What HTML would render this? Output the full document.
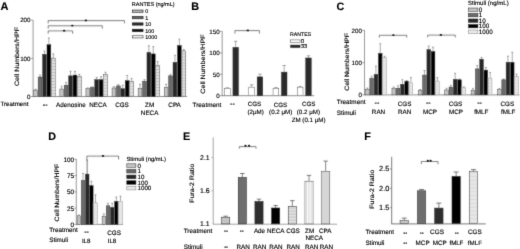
<!DOCTYPE html>
<html><head><meta charset="utf-8"><title>Figure</title>
<style>
html,body{margin:0;padding:0;background:#fff;}
svg{display:block;font-family:'Liberation Sans', Arial, sans-serif;text-rendering:geometricPrecision;}
text{stroke:#000;stroke-width:0.14px;}
</style></head>
<body>
<svg width="520" height="249" viewBox="0 0 520 249">
<rect width="520" height="249" fill="#fff"/>
<filter id="bl" x="0" y="0" width="520" height="249" filterUnits="userSpaceOnUse"><feConvolveMatrix order="3" kernelMatrix="1 3 1 3 24 3 1 3 1" divisor="40" edgeMode="duplicate" preserveAlpha="false"/></filter>
<g filter="url(#bl)">
<line x1="33.10" y1="20.20" x2="33.10" y2="96.50" stroke="#444" stroke-width="0.55"/>
<line x1="32.80" y1="96.50" x2="187.10" y2="96.50" stroke="#444" stroke-width="0.6"/>
<line x1="30.90" y1="20.10" x2="33.10" y2="20.10" stroke="#444" stroke-width="0.5"/>
<line x1="30.90" y1="58.30" x2="33.10" y2="58.30" stroke="#444" stroke-width="0.5"/>
<line x1="30.90" y1="96.50" x2="33.10" y2="96.50" stroke="#444" stroke-width="0.5"/>
<line x1="35.62" y1="90.08" x2="35.62" y2="89.24" stroke="#555" stroke-width="0.5"/>
<line x1="34.62" y1="89.24" x2="36.62" y2="89.24" stroke="#555" stroke-width="0.5"/>
<rect x="33.73" y="90.08" width="3.80" height="6.42" fill="#c2c2c2" stroke="#333" stroke-width="0.45"/>
<line x1="40.05" y1="77.02" x2="40.05" y2="75.11" stroke="#555" stroke-width="0.5"/>
<line x1="39.05" y1="75.11" x2="41.05" y2="75.11" stroke="#555" stroke-width="0.5"/>
<rect x="38.15" y="77.02" width="3.80" height="19.48" fill="#6a6a6a" stroke="#333" stroke-width="0.45"/>
<line x1="44.47" y1="54.29" x2="44.47" y2="51.04" stroke="#555" stroke-width="0.5"/>
<line x1="43.47" y1="51.04" x2="45.47" y2="51.04" stroke="#555" stroke-width="0.5"/>
<rect x="42.57" y="54.29" width="3.80" height="42.21" fill="#272727" stroke="#333" stroke-width="0.45"/>
<line x1="48.88" y1="44.70" x2="48.88" y2="38.05" stroke="#555" stroke-width="0.5"/>
<line x1="47.88" y1="38.05" x2="49.88" y2="38.05" stroke="#555" stroke-width="0.5"/>
<rect x="46.98" y="44.70" width="3.80" height="51.80" fill="#000" stroke="#333" stroke-width="0.45"/>
<line x1="53.30" y1="58.11" x2="53.30" y2="53.91" stroke="#555" stroke-width="0.5"/>
<line x1="52.30" y1="53.91" x2="54.30" y2="53.91" stroke="#555" stroke-width="0.5"/>
<rect x="51.41" y="58.11" width="3.80" height="38.39" fill="#fff" stroke="none" stroke-width="0"/>
<path d="M51.41 59.01h3.80M51.41 60.51h3.80M51.41 62.01h3.80M51.41 63.51h3.80M51.41 65.01h3.80M51.41 66.51h3.80M51.41 68.01h3.80M51.41 69.51h3.80M51.41 71.01h3.80M51.41 72.51h3.80M51.41 74.01h3.80M51.41 75.51h3.80M51.41 77.01h3.80M51.41 78.51h3.80M51.41 80.01h3.80M51.41 81.51h3.80M51.41 83.01h3.80M51.41 84.51h3.80M51.41 86.01h3.80M51.41 87.51h3.80M51.41 89.01h3.80M51.41 90.51h3.80M51.41 92.01h3.80M51.41 93.51h3.80M51.41 95.01h3.80" stroke="#777" stroke-width="0.45" fill="none"/>
<rect x="51.41" y="58.11" width="3.80" height="38.39" fill="none" stroke="#333" stroke-width="0.45"/>
<line x1="61.73" y1="89.01" x2="61.73" y2="86.19" stroke="#555" stroke-width="0.5"/>
<line x1="60.73" y1="86.19" x2="62.73" y2="86.19" stroke="#555" stroke-width="0.5"/>
<rect x="59.83" y="89.01" width="3.80" height="7.49" fill="#c2c2c2" stroke="#333" stroke-width="0.45"/>
<line x1="66.14" y1="85.19" x2="66.14" y2="82.37" stroke="#555" stroke-width="0.5"/>
<line x1="65.14" y1="82.37" x2="67.14" y2="82.37" stroke="#555" stroke-width="0.5"/>
<rect x="64.24" y="85.19" width="3.80" height="11.31" fill="#6a6a6a" stroke="#333" stroke-width="0.45"/>
<line x1="70.56" y1="75.87" x2="70.56" y2="71.29" stroke="#555" stroke-width="0.5"/>
<line x1="69.56" y1="71.29" x2="71.56" y2="71.29" stroke="#555" stroke-width="0.5"/>
<rect x="68.66" y="75.87" width="3.80" height="20.63" fill="#272727" stroke="#333" stroke-width="0.45"/>
<line x1="74.98" y1="75.11" x2="74.98" y2="71.29" stroke="#555" stroke-width="0.5"/>
<line x1="73.98" y1="71.29" x2="75.98" y2="71.29" stroke="#555" stroke-width="0.5"/>
<rect x="73.08" y="75.11" width="3.80" height="21.39" fill="#000" stroke="#333" stroke-width="0.45"/>
<line x1="79.41" y1="76.41" x2="79.41" y2="74.34" stroke="#555" stroke-width="0.5"/>
<line x1="78.41" y1="74.34" x2="80.41" y2="74.34" stroke="#555" stroke-width="0.5"/>
<rect x="77.50" y="76.41" width="3.80" height="20.09" fill="#fff" stroke="none" stroke-width="0"/>
<path d="M77.50 77.31h3.80M77.50 78.81h3.80M77.50 80.31h3.80M77.50 81.81h3.80M77.50 83.31h3.80M77.50 84.81h3.80M77.50 86.31h3.80M77.50 87.81h3.80M77.50 89.31h3.80M77.50 90.81h3.80M77.50 92.31h3.80M77.50 93.81h3.80M77.50 95.31h3.80" stroke="#777" stroke-width="0.45" fill="none"/>
<rect x="77.50" y="76.41" width="3.80" height="20.09" fill="none" stroke="#333" stroke-width="0.45"/>
<line x1="87.83" y1="88.67" x2="87.83" y2="87.91" stroke="#555" stroke-width="0.5"/>
<line x1="86.83" y1="87.91" x2="88.83" y2="87.91" stroke="#555" stroke-width="0.5"/>
<rect x="85.92" y="88.67" width="3.80" height="7.83" fill="#c2c2c2" stroke="#333" stroke-width="0.45"/>
<line x1="92.25" y1="87.52" x2="92.25" y2="86.76" stroke="#555" stroke-width="0.5"/>
<line x1="91.25" y1="86.76" x2="93.25" y2="86.76" stroke="#555" stroke-width="0.5"/>
<rect x="90.34" y="87.52" width="3.80" height="8.98" fill="#6a6a6a" stroke="#333" stroke-width="0.45"/>
<line x1="96.67" y1="79.69" x2="96.67" y2="77.40" stroke="#555" stroke-width="0.5"/>
<line x1="95.67" y1="77.40" x2="97.67" y2="77.40" stroke="#555" stroke-width="0.5"/>
<rect x="94.77" y="79.69" width="3.80" height="16.81" fill="#272727" stroke="#333" stroke-width="0.45"/>
<line x1="101.09" y1="79.69" x2="101.09" y2="76.64" stroke="#555" stroke-width="0.5"/>
<line x1="100.09" y1="76.64" x2="102.09" y2="76.64" stroke="#555" stroke-width="0.5"/>
<rect x="99.19" y="79.69" width="3.80" height="16.81" fill="#000" stroke="#333" stroke-width="0.45"/>
<line x1="105.50" y1="74.23" x2="105.50" y2="72.24" stroke="#555" stroke-width="0.5"/>
<line x1="104.50" y1="72.24" x2="106.50" y2="72.24" stroke="#555" stroke-width="0.5"/>
<rect x="103.60" y="74.23" width="3.80" height="22.27" fill="#fff" stroke="none" stroke-width="0"/>
<path d="M103.60 75.13h3.80M103.60 76.63h3.80M103.60 78.13h3.80M103.60 79.63h3.80M103.60 81.13h3.80M103.60 82.63h3.80M103.60 84.13h3.80M103.60 85.63h3.80M103.60 87.13h3.80M103.60 88.63h3.80M103.60 90.13h3.80M103.60 91.63h3.80M103.60 93.13h3.80M103.60 94.63h3.80M103.60 96.13h3.80" stroke="#777" stroke-width="0.45" fill="none"/>
<rect x="103.60" y="74.23" width="3.80" height="22.27" fill="none" stroke="#333" stroke-width="0.45"/>
<line x1="113.93" y1="87.98" x2="113.93" y2="86.76" stroke="#555" stroke-width="0.5"/>
<line x1="112.93" y1="86.76" x2="114.93" y2="86.76" stroke="#555" stroke-width="0.5"/>
<rect x="112.03" y="87.98" width="3.80" height="8.52" fill="#c2c2c2" stroke="#333" stroke-width="0.45"/>
<line x1="118.35" y1="85.92" x2="118.35" y2="84.66" stroke="#555" stroke-width="0.5"/>
<line x1="117.35" y1="84.66" x2="119.35" y2="84.66" stroke="#555" stroke-width="0.5"/>
<rect x="116.45" y="85.92" width="3.80" height="10.58" fill="#6a6a6a" stroke="#333" stroke-width="0.45"/>
<line x1="122.77" y1="88.75" x2="122.77" y2="85.23" stroke="#555" stroke-width="0.5"/>
<line x1="121.77" y1="85.23" x2="123.77" y2="85.23" stroke="#555" stroke-width="0.5"/>
<rect x="120.87" y="88.75" width="3.80" height="7.75" fill="#272727" stroke="#333" stroke-width="0.45"/>
<line x1="127.19" y1="80.65" x2="127.19" y2="75.49" stroke="#555" stroke-width="0.5"/>
<line x1="126.19" y1="75.49" x2="128.19" y2="75.49" stroke="#555" stroke-width="0.5"/>
<rect x="125.29" y="80.65" width="3.80" height="15.85" fill="#000" stroke="#333" stroke-width="0.45"/>
<line x1="131.61" y1="81.22" x2="131.61" y2="78.36" stroke="#555" stroke-width="0.5"/>
<line x1="130.61" y1="78.36" x2="132.61" y2="78.36" stroke="#555" stroke-width="0.5"/>
<rect x="129.71" y="81.22" width="3.80" height="15.28" fill="#fff" stroke="none" stroke-width="0"/>
<path d="M129.71 82.12h3.80M129.71 83.62h3.80M129.71 85.12h3.80M129.71 86.62h3.80M129.71 88.12h3.80M129.71 89.62h3.80M129.71 91.12h3.80M129.71 92.62h3.80M129.71 94.12h3.80M129.71 95.62h3.80" stroke="#777" stroke-width="0.45" fill="none"/>
<rect x="129.71" y="81.22" width="3.80" height="15.28" fill="none" stroke="#333" stroke-width="0.45"/>
<line x1="140.03" y1="88.29" x2="140.03" y2="84.28" stroke="#555" stroke-width="0.5"/>
<line x1="139.03" y1="84.28" x2="141.03" y2="84.28" stroke="#555" stroke-width="0.5"/>
<rect x="138.12" y="88.29" width="3.80" height="8.21" fill="#c2c2c2" stroke="#333" stroke-width="0.45"/>
<line x1="144.44" y1="81.30" x2="144.44" y2="79.69" stroke="#555" stroke-width="0.5"/>
<line x1="143.44" y1="79.69" x2="145.44" y2="79.69" stroke="#555" stroke-width="0.5"/>
<rect x="142.54" y="81.30" width="3.80" height="15.20" fill="#6a6a6a" stroke="#333" stroke-width="0.45"/>
<line x1="148.87" y1="52.42" x2="148.87" y2="45.81" stroke="#555" stroke-width="0.5"/>
<line x1="147.87" y1="45.81" x2="149.87" y2="45.81" stroke="#555" stroke-width="0.5"/>
<rect x="146.97" y="52.42" width="3.80" height="44.08" fill="#272727" stroke="#333" stroke-width="0.45"/>
<line x1="153.28" y1="53.91" x2="153.28" y2="46.61" stroke="#555" stroke-width="0.5"/>
<line x1="152.28" y1="46.61" x2="154.28" y2="46.61" stroke="#555" stroke-width="0.5"/>
<rect x="151.38" y="53.91" width="3.80" height="42.59" fill="#000" stroke="#333" stroke-width="0.45"/>
<line x1="157.71" y1="65.56" x2="157.71" y2="61.59" stroke="#555" stroke-width="0.5"/>
<line x1="156.71" y1="61.59" x2="158.71" y2="61.59" stroke="#555" stroke-width="0.5"/>
<rect x="155.81" y="65.56" width="3.80" height="30.94" fill="#fff" stroke="none" stroke-width="0"/>
<path d="M155.81 66.46h3.80M155.81 67.96h3.80M155.81 69.46h3.80M155.81 70.96h3.80M155.81 72.46h3.80M155.81 73.96h3.80M155.81 75.46h3.80M155.81 76.96h3.80M155.81 78.46h3.80M155.81 79.96h3.80M155.81 81.46h3.80M155.81 82.96h3.80M155.81 84.46h3.80M155.81 85.96h3.80M155.81 87.46h3.80M155.81 88.96h3.80M155.81 90.46h3.80M155.81 91.96h3.80M155.81 93.46h3.80M155.81 94.96h3.80" stroke="#777" stroke-width="0.45" fill="none"/>
<rect x="155.81" y="65.56" width="3.80" height="30.94" fill="none" stroke="#333" stroke-width="0.45"/>
<line x1="166.12" y1="87.48" x2="166.12" y2="84.28" stroke="#555" stroke-width="0.5"/>
<line x1="165.12" y1="84.28" x2="167.12" y2="84.28" stroke="#555" stroke-width="0.5"/>
<rect x="164.22" y="87.48" width="3.80" height="9.02" fill="#c2c2c2" stroke="#333" stroke-width="0.45"/>
<line x1="170.54" y1="75.87" x2="170.54" y2="74.34" stroke="#555" stroke-width="0.5"/>
<line x1="169.54" y1="74.34" x2="171.54" y2="74.34" stroke="#555" stroke-width="0.5"/>
<rect x="168.64" y="75.87" width="3.80" height="20.63" fill="#6a6a6a" stroke="#333" stroke-width="0.45"/>
<line x1="174.97" y1="62.31" x2="174.97" y2="55.24" stroke="#555" stroke-width="0.5"/>
<line x1="173.97" y1="55.24" x2="175.97" y2="55.24" stroke="#555" stroke-width="0.5"/>
<rect x="173.06" y="62.31" width="3.80" height="34.19" fill="#272727" stroke="#333" stroke-width="0.45"/>
<line x1="179.38" y1="45.50" x2="179.38" y2="39.20" stroke="#555" stroke-width="0.5"/>
<line x1="178.38" y1="39.20" x2="180.38" y2="39.20" stroke="#555" stroke-width="0.5"/>
<rect x="177.48" y="45.50" width="3.80" height="51.00" fill="#000" stroke="#333" stroke-width="0.45"/>
<line x1="183.81" y1="50.89" x2="183.81" y2="49.51" stroke="#555" stroke-width="0.5"/>
<line x1="182.81" y1="49.51" x2="184.81" y2="49.51" stroke="#555" stroke-width="0.5"/>
<rect x="181.91" y="50.89" width="3.80" height="45.61" fill="#fff" stroke="none" stroke-width="0"/>
<path d="M181.91 51.79h3.80M181.91 53.29h3.80M181.91 54.79h3.80M181.91 56.29h3.80M181.91 57.79h3.80M181.91 59.29h3.80M181.91 60.79h3.80M181.91 62.29h3.80M181.91 63.79h3.80M181.91 65.29h3.80M181.91 66.79h3.80M181.91 68.29h3.80M181.91 69.79h3.80M181.91 71.29h3.80M181.91 72.79h3.80M181.91 74.29h3.80M181.91 75.79h3.80M181.91 77.29h3.80M181.91 78.79h3.80M181.91 80.29h3.80M181.91 81.79h3.80M181.91 83.29h3.80M181.91 84.79h3.80M181.91 86.29h3.80M181.91 87.79h3.80M181.91 89.29h3.80M181.91 90.79h3.80M181.91 92.29h3.80M181.91 93.79h3.80M181.91 95.29h3.80" stroke="#777" stroke-width="0.45" fill="none"/>
<rect x="181.91" y="50.89" width="3.80" height="45.61" fill="none" stroke="#333" stroke-width="0.45"/>
<line x1="48.20" y1="20.60" x2="124.50" y2="20.60" stroke="#333" stroke-width="0.6"/>
<line x1="48.20" y1="20.60" x2="48.20" y2="23.40" stroke="#333" stroke-width="0.6"/>
<line x1="124.50" y1="20.60" x2="124.50" y2="23.40" stroke="#333" stroke-width="0.6"/>
<ellipse cx="85.90" cy="20.40" rx="1.25" ry="0.9" fill="#111"/>
<line x1="48.20" y1="25.80" x2="102.30" y2="25.80" stroke="#333" stroke-width="0.6"/>
<line x1="48.20" y1="25.80" x2="48.20" y2="28.60" stroke="#333" stroke-width="0.6"/>
<line x1="102.30" y1="25.80" x2="102.30" y2="28.60" stroke="#333" stroke-width="0.6"/>
<ellipse cx="72.30" cy="25.60" rx="1.25" ry="0.9" fill="#111"/>
<line x1="48.20" y1="30.90" x2="72.60" y2="30.90" stroke="#333" stroke-width="0.6"/>
<line x1="48.20" y1="30.90" x2="48.20" y2="33.70" stroke="#333" stroke-width="0.6"/>
<line x1="72.60" y1="30.90" x2="72.60" y2="33.70" stroke="#333" stroke-width="0.6"/>
<ellipse cx="64.10" cy="30.70" rx="1.25" ry="0.9" fill="#111"/>
<rect x="132.60" y="10.10" width="10.40" height="2.20" fill="#c2c2c2" stroke="#222" stroke-width="0.75"/>
<rect x="132.60" y="16.50" width="10.40" height="2.20" fill="#6a6a6a" stroke="#222" stroke-width="0.75"/>
<rect x="132.60" y="22.90" width="10.40" height="2.20" fill="#272727" stroke="#222" stroke-width="0.75"/>
<rect x="132.60" y="29.30" width="10.40" height="2.20" fill="#000" stroke="#222" stroke-width="0.75"/>
<rect x="132.60" y="35.70" width="10.40" height="2.20" fill="#fff" stroke="#444" stroke-width="0.75"/>
<line x1="222.20" y1="31.40" x2="222.20" y2="95.70" stroke="#444" stroke-width="0.55"/>
<line x1="221.90" y1="95.70" x2="314.20" y2="95.70" stroke="#444" stroke-width="0.6"/>
<line x1="220.00" y1="31.42" x2="222.20" y2="31.42" stroke="#444" stroke-width="0.5"/>
<line x1="220.00" y1="52.85" x2="222.20" y2="52.85" stroke="#444" stroke-width="0.5"/>
<line x1="220.00" y1="74.28" x2="222.20" y2="74.28" stroke="#444" stroke-width="0.5"/>
<line x1="220.00" y1="95.70" x2="222.20" y2="95.70" stroke="#444" stroke-width="0.5"/>
<line x1="227.40" y1="88.42" x2="227.40" y2="87.77" stroke="#555" stroke-width="0.5"/>
<line x1="225.70" y1="87.77" x2="229.10" y2="87.77" stroke="#555" stroke-width="0.5"/>
<rect x="224.53" y="88.42" width="5.75" height="7.28" fill="#fff" stroke="#333" stroke-width="0.45"/>
<line x1="235.70" y1="47.37" x2="235.70" y2="41.28" stroke="#555" stroke-width="0.5"/>
<line x1="234.00" y1="41.28" x2="237.40" y2="41.28" stroke="#555" stroke-width="0.5"/>
<rect x="232.93" y="47.37" width="5.55" height="48.33" fill="#2b2b2b" stroke="#2b2b2b" stroke-width="0.45"/>
<line x1="251.65" y1="87.13" x2="251.65" y2="84.77" stroke="#555" stroke-width="0.5"/>
<line x1="249.95" y1="84.77" x2="253.35" y2="84.77" stroke="#555" stroke-width="0.5"/>
<rect x="248.78" y="87.13" width="5.75" height="8.57" fill="#fff" stroke="#333" stroke-width="0.45"/>
<line x1="259.95" y1="76.89" x2="259.95" y2="74.06" stroke="#555" stroke-width="0.5"/>
<line x1="258.25" y1="74.06" x2="261.65" y2="74.06" stroke="#555" stroke-width="0.5"/>
<rect x="257.18" y="76.89" width="5.55" height="18.81" fill="#2b2b2b" stroke="#2b2b2b" stroke-width="0.45"/>
<line x1="275.90" y1="88.42" x2="275.90" y2="87.56" stroke="#555" stroke-width="0.5"/>
<line x1="274.20" y1="87.56" x2="277.60" y2="87.56" stroke="#555" stroke-width="0.5"/>
<rect x="273.03" y="88.42" width="5.75" height="7.28" fill="#fff" stroke="#333" stroke-width="0.45"/>
<line x1="284.20" y1="72.13" x2="284.20" y2="65.49" stroke="#555" stroke-width="0.5"/>
<line x1="282.50" y1="65.49" x2="285.90" y2="65.49" stroke="#555" stroke-width="0.5"/>
<rect x="281.43" y="72.13" width="5.55" height="23.57" fill="#2b2b2b" stroke="#2b2b2b" stroke-width="0.45"/>
<line x1="300.15" y1="87.13" x2="300.15" y2="86.49" stroke="#555" stroke-width="0.5"/>
<line x1="298.45" y1="86.49" x2="301.85" y2="86.49" stroke="#555" stroke-width="0.5"/>
<rect x="297.28" y="87.13" width="5.75" height="8.57" fill="#fff" stroke="#333" stroke-width="0.45"/>
<line x1="308.45" y1="57.99" x2="308.45" y2="55.76" stroke="#555" stroke-width="0.5"/>
<line x1="306.75" y1="55.76" x2="310.15" y2="55.76" stroke="#555" stroke-width="0.5"/>
<rect x="305.68" y="57.99" width="5.55" height="37.71" fill="#2b2b2b" stroke="#2b2b2b" stroke-width="0.45"/>
<line x1="234.90" y1="30.60" x2="259.40" y2="30.60" stroke="#333" stroke-width="0.6"/>
<line x1="234.90" y1="30.60" x2="234.90" y2="33.60" stroke="#333" stroke-width="0.6"/>
<line x1="259.40" y1="30.60" x2="259.40" y2="33.60" stroke="#333" stroke-width="0.6"/>
<ellipse cx="247.80" cy="30.40" rx="1.25" ry="0.9" fill="#111"/>
<rect x="290.70" y="39.90" width="9.40" height="2.40" fill="#fff" stroke="#222" stroke-width="0.5"/>
<rect x="290.70" y="45.10" width="9.40" height="2.40" fill="#2b2b2b" stroke="#222" stroke-width="0.5"/>
<line x1="364.50" y1="30.20" x2="364.50" y2="94.90" stroke="#444" stroke-width="0.55"/>
<line x1="364.20" y1="94.90" x2="519.50" y2="94.90" stroke="#444" stroke-width="0.6"/>
<line x1="362.30" y1="30.40" x2="364.50" y2="30.40" stroke="#444" stroke-width="0.5"/>
<line x1="362.30" y1="62.65" x2="364.50" y2="62.65" stroke="#444" stroke-width="0.5"/>
<line x1="362.30" y1="94.90" x2="364.50" y2="94.90" stroke="#444" stroke-width="0.5"/>
<line x1="367.35" y1="89.20" x2="367.35" y2="88.00" stroke="#555" stroke-width="0.5"/>
<line x1="366.35" y1="88.00" x2="368.35" y2="88.00" stroke="#555" stroke-width="0.5"/>
<rect x="365.53" y="89.20" width="3.65" height="5.70" fill="#c2c2c2" stroke="#333" stroke-width="0.45"/>
<line x1="371.65" y1="78.30" x2="371.65" y2="76.20" stroke="#555" stroke-width="0.5"/>
<line x1="370.65" y1="76.20" x2="372.65" y2="76.20" stroke="#555" stroke-width="0.5"/>
<rect x="369.83" y="78.30" width="3.65" height="16.60" fill="#6a6a6a" stroke="#333" stroke-width="0.45"/>
<line x1="375.95" y1="74.40" x2="375.95" y2="66.00" stroke="#555" stroke-width="0.5"/>
<line x1="374.95" y1="66.00" x2="376.95" y2="66.00" stroke="#555" stroke-width="0.5"/>
<rect x="374.13" y="74.40" width="3.65" height="20.50" fill="#272727" stroke="#333" stroke-width="0.45"/>
<line x1="380.25" y1="53.40" x2="380.25" y2="43.70" stroke="#555" stroke-width="0.5"/>
<line x1="379.25" y1="43.70" x2="381.25" y2="43.70" stroke="#555" stroke-width="0.5"/>
<rect x="378.43" y="53.40" width="3.65" height="41.50" fill="#000" stroke="#333" stroke-width="0.45"/>
<line x1="384.55" y1="57.70" x2="384.55" y2="56.30" stroke="#555" stroke-width="0.5"/>
<line x1="383.55" y1="56.30" x2="385.55" y2="56.30" stroke="#555" stroke-width="0.5"/>
<rect x="382.73" y="57.70" width="3.65" height="37.20" fill="#f1f1f1" stroke="none" stroke-width="0"/>
<path d="M382.73 58.60h3.65M382.73 60.10h3.65M382.73 61.60h3.65M382.73 63.10h3.65M382.73 64.60h3.65M382.73 66.10h3.65M382.73 67.60h3.65M382.73 69.10h3.65M382.73 70.60h3.65M382.73 72.10h3.65M382.73 73.60h3.65M382.73 75.10h3.65M382.73 76.60h3.65M382.73 78.10h3.65M382.73 79.60h3.65M382.73 81.10h3.65M382.73 82.60h3.65M382.73 84.10h3.65M382.73 85.60h3.65M382.73 87.10h3.65M382.73 88.60h3.65M382.73 90.10h3.65M382.73 91.60h3.65M382.73 93.10h3.65M382.73 94.60h3.65" stroke="#c4c4c4" stroke-width="0.4" fill="none"/>
<rect x="382.73" y="57.70" width="3.65" height="37.20" fill="none" stroke="#8a8a8a" stroke-width="0.45"/>
<line x1="393.75" y1="88.20" x2="393.75" y2="87.00" stroke="#555" stroke-width="0.5"/>
<line x1="392.75" y1="87.00" x2="394.75" y2="87.00" stroke="#555" stroke-width="0.5"/>
<rect x="391.93" y="88.20" width="3.65" height="6.70" fill="#c2c2c2" stroke="#333" stroke-width="0.45"/>
<line x1="398.05" y1="88.20" x2="398.05" y2="85.80" stroke="#555" stroke-width="0.5"/>
<line x1="397.05" y1="85.80" x2="399.05" y2="85.80" stroke="#555" stroke-width="0.5"/>
<rect x="396.23" y="88.20" width="3.65" height="6.70" fill="#6a6a6a" stroke="#333" stroke-width="0.45"/>
<line x1="402.35" y1="84.30" x2="402.35" y2="79.70" stroke="#555" stroke-width="0.5"/>
<line x1="401.35" y1="79.70" x2="403.35" y2="79.70" stroke="#555" stroke-width="0.5"/>
<rect x="400.53" y="84.30" width="3.65" height="10.60" fill="#272727" stroke="#333" stroke-width="0.45"/>
<line x1="406.65" y1="81.20" x2="406.65" y2="80.50" stroke="#555" stroke-width="0.5"/>
<line x1="405.65" y1="80.50" x2="407.65" y2="80.50" stroke="#555" stroke-width="0.5"/>
<rect x="404.82" y="81.20" width="3.65" height="13.70" fill="#000" stroke="#333" stroke-width="0.45"/>
<line x1="410.95" y1="82.80" x2="410.95" y2="77.40" stroke="#555" stroke-width="0.5"/>
<line x1="409.95" y1="77.40" x2="411.95" y2="77.40" stroke="#555" stroke-width="0.5"/>
<rect x="409.12" y="82.80" width="3.65" height="12.10" fill="#f1f1f1" stroke="none" stroke-width="0"/>
<path d="M409.12 83.70h3.65M409.12 85.20h3.65M409.12 86.70h3.65M409.12 88.20h3.65M409.12 89.70h3.65M409.12 91.20h3.65M409.12 92.70h3.65M409.12 94.20h3.65" stroke="#c4c4c4" stroke-width="0.4" fill="none"/>
<rect x="409.12" y="82.80" width="3.65" height="12.10" fill="none" stroke="#8a8a8a" stroke-width="0.45"/>
<line x1="420.15" y1="90.50" x2="420.15" y2="89.50" stroke="#555" stroke-width="0.5"/>
<line x1="419.15" y1="89.50" x2="421.15" y2="89.50" stroke="#555" stroke-width="0.5"/>
<rect x="418.33" y="90.50" width="3.65" height="4.40" fill="#c2c2c2" stroke="#333" stroke-width="0.45"/>
<line x1="424.45" y1="75.10" x2="424.45" y2="70.50" stroke="#555" stroke-width="0.5"/>
<line x1="423.45" y1="70.50" x2="425.45" y2="70.50" stroke="#555" stroke-width="0.5"/>
<rect x="422.63" y="75.10" width="3.65" height="19.80" fill="#6a6a6a" stroke="#333" stroke-width="0.45"/>
<line x1="428.75" y1="49.60" x2="428.75" y2="46.00" stroke="#555" stroke-width="0.5"/>
<line x1="427.75" y1="46.00" x2="429.75" y2="46.00" stroke="#555" stroke-width="0.5"/>
<rect x="426.93" y="49.60" width="3.65" height="45.30" fill="#272727" stroke="#333" stroke-width="0.45"/>
<line x1="433.05" y1="51.50" x2="433.05" y2="47.20" stroke="#555" stroke-width="0.5"/>
<line x1="432.05" y1="47.20" x2="434.05" y2="47.20" stroke="#555" stroke-width="0.5"/>
<rect x="431.23" y="51.50" width="3.65" height="43.40" fill="#000" stroke="#333" stroke-width="0.45"/>
<line x1="437.35" y1="81.00" x2="437.35" y2="77.60" stroke="#555" stroke-width="0.5"/>
<line x1="436.35" y1="77.60" x2="438.35" y2="77.60" stroke="#555" stroke-width="0.5"/>
<rect x="435.53" y="81.00" width="3.65" height="13.90" fill="#f1f1f1" stroke="none" stroke-width="0"/>
<path d="M435.53 81.90h3.65M435.53 83.40h3.65M435.53 84.90h3.65M435.53 86.40h3.65M435.53 87.90h3.65M435.53 89.40h3.65M435.53 90.90h3.65M435.53 92.40h3.65M435.53 93.90h3.65" stroke="#c4c4c4" stroke-width="0.4" fill="none"/>
<rect x="435.53" y="81.00" width="3.65" height="13.90" fill="none" stroke="#8a8a8a" stroke-width="0.45"/>
<line x1="446.55" y1="90.00" x2="446.55" y2="88.30" stroke="#555" stroke-width="0.5"/>
<line x1="445.55" y1="88.30" x2="447.55" y2="88.30" stroke="#555" stroke-width="0.5"/>
<rect x="444.73" y="90.00" width="3.65" height="4.90" fill="#c2c2c2" stroke="#333" stroke-width="0.45"/>
<line x1="450.85" y1="87.10" x2="450.85" y2="85.40" stroke="#555" stroke-width="0.5"/>
<line x1="449.85" y1="85.40" x2="451.85" y2="85.40" stroke="#555" stroke-width="0.5"/>
<rect x="449.03" y="87.10" width="3.65" height="7.80" fill="#6a6a6a" stroke="#333" stroke-width="0.45"/>
<line x1="455.15" y1="79.30" x2="455.15" y2="73.20" stroke="#555" stroke-width="0.5"/>
<line x1="454.15" y1="73.20" x2="456.15" y2="73.20" stroke="#555" stroke-width="0.5"/>
<rect x="453.33" y="79.30" width="3.65" height="15.60" fill="#272727" stroke="#333" stroke-width="0.45"/>
<line x1="459.45" y1="79.80" x2="459.45" y2="79.00" stroke="#555" stroke-width="0.5"/>
<line x1="458.45" y1="79.00" x2="460.45" y2="79.00" stroke="#555" stroke-width="0.5"/>
<rect x="457.62" y="79.80" width="3.65" height="15.10" fill="#000" stroke="#333" stroke-width="0.45"/>
<line x1="463.75" y1="87.60" x2="463.75" y2="86.80" stroke="#555" stroke-width="0.5"/>
<line x1="462.75" y1="86.80" x2="464.75" y2="86.80" stroke="#555" stroke-width="0.5"/>
<rect x="461.93" y="87.60" width="3.65" height="7.30" fill="#f1f1f1" stroke="none" stroke-width="0"/>
<path d="M461.93 88.50h3.65M461.93 90.00h3.65M461.93 91.50h3.65M461.93 93.00h3.65M461.93 94.50h3.65" stroke="#c4c4c4" stroke-width="0.4" fill="none"/>
<rect x="461.93" y="87.60" width="3.65" height="7.30" fill="none" stroke="#8a8a8a" stroke-width="0.45"/>
<line x1="472.95" y1="90.20" x2="472.95" y2="88.40" stroke="#555" stroke-width="0.5"/>
<line x1="471.95" y1="88.40" x2="473.95" y2="88.40" stroke="#555" stroke-width="0.5"/>
<rect x="471.12" y="90.20" width="3.65" height="4.70" fill="#c2c2c2" stroke="#333" stroke-width="0.45"/>
<line x1="477.25" y1="68.90" x2="477.25" y2="65.50" stroke="#555" stroke-width="0.5"/>
<line x1="476.25" y1="65.50" x2="478.25" y2="65.50" stroke="#555" stroke-width="0.5"/>
<rect x="475.43" y="68.90" width="3.65" height="26.00" fill="#6a6a6a" stroke="#333" stroke-width="0.45"/>
<line x1="481.55" y1="59.20" x2="481.55" y2="57.40" stroke="#555" stroke-width="0.5"/>
<line x1="480.55" y1="57.40" x2="482.55" y2="57.40" stroke="#555" stroke-width="0.5"/>
<rect x="479.73" y="59.20" width="3.65" height="35.70" fill="#272727" stroke="#333" stroke-width="0.45"/>
<line x1="485.85" y1="70.10" x2="485.85" y2="67.50" stroke="#555" stroke-width="0.5"/>
<line x1="484.85" y1="67.50" x2="486.85" y2="67.50" stroke="#555" stroke-width="0.5"/>
<rect x="484.02" y="70.10" width="3.65" height="24.80" fill="#000" stroke="#333" stroke-width="0.45"/>
<line x1="490.15" y1="78.10" x2="490.15" y2="72.40" stroke="#555" stroke-width="0.5"/>
<line x1="489.15" y1="72.40" x2="491.15" y2="72.40" stroke="#555" stroke-width="0.5"/>
<rect x="488.32" y="78.10" width="3.65" height="16.80" fill="#f1f1f1" stroke="none" stroke-width="0"/>
<path d="M488.32 79.00h3.65M488.32 80.50h3.65M488.32 82.00h3.65M488.32 83.50h3.65M488.32 85.00h3.65M488.32 86.50h3.65M488.32 88.00h3.65M488.32 89.50h3.65M488.32 91.00h3.65M488.32 92.50h3.65M488.32 94.00h3.65" stroke="#c4c4c4" stroke-width="0.4" fill="none"/>
<rect x="488.32" y="78.10" width="3.65" height="16.80" fill="none" stroke="#8a8a8a" stroke-width="0.45"/>
<line x1="499.35" y1="89.70" x2="499.35" y2="88.50" stroke="#555" stroke-width="0.5"/>
<line x1="498.35" y1="88.50" x2="500.35" y2="88.50" stroke="#555" stroke-width="0.5"/>
<rect x="497.53" y="89.70" width="3.65" height="5.20" fill="#c2c2c2" stroke="#333" stroke-width="0.45"/>
<line x1="503.65" y1="79.80" x2="503.65" y2="79.00" stroke="#555" stroke-width="0.5"/>
<line x1="502.65" y1="79.00" x2="504.65" y2="79.00" stroke="#555" stroke-width="0.5"/>
<rect x="501.83" y="79.80" width="3.65" height="15.10" fill="#6a6a6a" stroke="#333" stroke-width="0.45"/>
<line x1="507.95" y1="62.30" x2="507.95" y2="56.20" stroke="#555" stroke-width="0.5"/>
<line x1="506.95" y1="56.20" x2="508.95" y2="56.20" stroke="#555" stroke-width="0.5"/>
<rect x="506.13" y="62.30" width="3.65" height="32.60" fill="#272727" stroke="#333" stroke-width="0.45"/>
<line x1="512.25" y1="62.30" x2="512.25" y2="52.30" stroke="#555" stroke-width="0.5"/>
<line x1="511.25" y1="52.30" x2="513.25" y2="52.30" stroke="#555" stroke-width="0.5"/>
<rect x="510.43" y="62.30" width="3.65" height="32.60" fill="#000" stroke="#333" stroke-width="0.45"/>
<line x1="516.55" y1="76.70" x2="516.55" y2="74.10" stroke="#555" stroke-width="0.5"/>
<line x1="515.55" y1="74.10" x2="517.55" y2="74.10" stroke="#555" stroke-width="0.5"/>
<rect x="514.73" y="76.70" width="3.65" height="18.20" fill="#f1f1f1" stroke="none" stroke-width="0"/>
<path d="M514.73 77.60h3.65M514.73 79.10h3.65M514.73 80.60h3.65M514.73 82.10h3.65M514.73 83.60h3.65M514.73 85.10h3.65M514.73 86.60h3.65M514.73 88.10h3.65M514.73 89.60h3.65M514.73 91.10h3.65M514.73 92.60h3.65M514.73 94.10h3.65" stroke="#c4c4c4" stroke-width="0.4" fill="none"/>
<rect x="514.73" y="76.70" width="3.65" height="18.20" fill="none" stroke="#8a8a8a" stroke-width="0.45"/>
<line x1="379.40" y1="35.30" x2="406.70" y2="35.30" stroke="#333" stroke-width="0.6"/>
<line x1="379.40" y1="35.30" x2="379.40" y2="37.60" stroke="#333" stroke-width="0.6"/>
<line x1="406.70" y1="35.30" x2="406.70" y2="37.60" stroke="#333" stroke-width="0.6"/>
<ellipse cx="393.40" cy="35.10" rx="1.25" ry="0.9" fill="#111"/>
<line x1="427.70" y1="35.10" x2="455.30" y2="35.10" stroke="#333" stroke-width="0.6"/>
<line x1="427.70" y1="35.10" x2="427.70" y2="37.40" stroke="#333" stroke-width="0.6"/>
<line x1="455.30" y1="35.10" x2="455.30" y2="37.40" stroke="#333" stroke-width="0.6"/>
<ellipse cx="440.90" cy="34.90" rx="1.25" ry="0.9" fill="#111"/>
<rect x="468.50" y="8.00" width="9.40" height="3.30" fill="#c2c2c2" stroke="#222" stroke-width="0.55"/>
<rect x="468.50" y="13.50" width="9.40" height="3.30" fill="#6a6a6a" stroke="#222" stroke-width="0.55"/>
<rect x="468.50" y="19.00" width="9.40" height="3.30" fill="#272727" stroke="#222" stroke-width="0.55"/>
<rect x="468.50" y="24.50" width="9.40" height="3.30" fill="#000" stroke="#222" stroke-width="0.55"/>
<rect x="468.50" y="30.00" width="9.40" height="3.30" fill="#e9e9e9" stroke="#808080" stroke-width="0.55"/>
<line x1="76.30" y1="159.00" x2="76.30" y2="224.40" stroke="#444" stroke-width="0.55"/>
<line x1="76.00" y1="224.40" x2="123.00" y2="224.40" stroke="#444" stroke-width="0.6"/>
<line x1="74.30" y1="159.30" x2="76.30" y2="159.30" stroke="#444" stroke-width="0.5"/>
<line x1="74.30" y1="175.57" x2="76.30" y2="175.57" stroke="#444" stroke-width="0.5"/>
<line x1="74.30" y1="191.85" x2="76.30" y2="191.85" stroke="#444" stroke-width="0.5"/>
<line x1="74.30" y1="208.12" x2="76.30" y2="208.12" stroke="#444" stroke-width="0.5"/>
<line x1="74.30" y1="224.40" x2="76.30" y2="224.40" stroke="#444" stroke-width="0.5"/>
<line x1="78.90" y1="215.80" x2="78.90" y2="215.00" stroke="#555" stroke-width="0.5"/>
<line x1="77.90" y1="215.00" x2="79.90" y2="215.00" stroke="#555" stroke-width="0.5"/>
<rect x="77.12" y="215.80" width="3.55" height="8.60" fill="#c2c2c2" stroke="#333" stroke-width="0.45"/>
<line x1="83.05" y1="180.40" x2="83.05" y2="173.50" stroke="#555" stroke-width="0.5"/>
<line x1="82.05" y1="173.50" x2="84.05" y2="173.50" stroke="#555" stroke-width="0.5"/>
<rect x="81.28" y="180.40" width="3.55" height="44.00" fill="#6a6a6a" stroke="#333" stroke-width="0.45"/>
<line x1="87.20" y1="174.10" x2="87.20" y2="160.00" stroke="#555" stroke-width="0.5"/>
<line x1="86.20" y1="160.00" x2="88.20" y2="160.00" stroke="#555" stroke-width="0.5"/>
<rect x="85.42" y="174.10" width="3.55" height="50.30" fill="#272727" stroke="#333" stroke-width="0.45"/>
<line x1="91.35" y1="185.60" x2="91.35" y2="181.30" stroke="#555" stroke-width="0.5"/>
<line x1="90.35" y1="181.30" x2="92.35" y2="181.30" stroke="#555" stroke-width="0.5"/>
<rect x="89.58" y="185.60" width="3.55" height="38.80" fill="#000" stroke="#333" stroke-width="0.45"/>
<line x1="95.50" y1="202.80" x2="95.50" y2="194.80" stroke="#555" stroke-width="0.5"/>
<line x1="94.50" y1="194.80" x2="96.50" y2="194.80" stroke="#555" stroke-width="0.5"/>
<rect x="93.72" y="202.80" width="3.55" height="21.60" fill="#f1f1f1" stroke="none" stroke-width="0"/>
<path d="M93.72 203.70h3.55M93.72 205.20h3.55M93.72 206.70h3.55M93.72 208.20h3.55M93.72 209.70h3.55M93.72 211.20h3.55M93.72 212.70h3.55M93.72 214.20h3.55M93.72 215.70h3.55M93.72 217.20h3.55M93.72 218.70h3.55M93.72 220.20h3.55M93.72 221.70h3.55M93.72 223.20h3.55" stroke="#c4c4c4" stroke-width="0.4" fill="none"/>
<rect x="93.72" y="202.80" width="3.55" height="21.60" fill="none" stroke="#8a8a8a" stroke-width="0.45"/>
<line x1="103.90" y1="216.20" x2="103.90" y2="213.90" stroke="#555" stroke-width="0.5"/>
<line x1="102.90" y1="213.90" x2="104.90" y2="213.90" stroke="#555" stroke-width="0.5"/>
<rect x="102.12" y="216.20" width="3.55" height="8.20" fill="#c2c2c2" stroke="#333" stroke-width="0.45"/>
<line x1="108.05" y1="205.80" x2="108.05" y2="203.30" stroke="#555" stroke-width="0.5"/>
<line x1="107.05" y1="203.30" x2="109.05" y2="203.30" stroke="#555" stroke-width="0.5"/>
<rect x="106.28" y="205.80" width="3.55" height="18.60" fill="#6a6a6a" stroke="#333" stroke-width="0.45"/>
<line x1="112.20" y1="207.50" x2="112.20" y2="203.30" stroke="#555" stroke-width="0.5"/>
<line x1="111.20" y1="203.30" x2="113.20" y2="203.30" stroke="#555" stroke-width="0.5"/>
<rect x="110.42" y="207.50" width="3.55" height="16.90" fill="#272727" stroke="#333" stroke-width="0.45"/>
<line x1="116.35" y1="201.40" x2="116.35" y2="197.00" stroke="#555" stroke-width="0.5"/>
<line x1="115.35" y1="197.00" x2="117.35" y2="197.00" stroke="#555" stroke-width="0.5"/>
<rect x="114.58" y="201.40" width="3.55" height="23.00" fill="#000" stroke="#333" stroke-width="0.45"/>
<line x1="120.50" y1="201.40" x2="120.50" y2="196.20" stroke="#555" stroke-width="0.5"/>
<line x1="119.50" y1="196.20" x2="121.50" y2="196.20" stroke="#555" stroke-width="0.5"/>
<rect x="118.72" y="201.40" width="3.55" height="23.00" fill="#f1f1f1" stroke="none" stroke-width="0"/>
<path d="M118.72 202.30h3.55M118.72 203.80h3.55M118.72 205.30h3.55M118.72 206.80h3.55M118.72 208.30h3.55M118.72 209.80h3.55M118.72 211.30h3.55M118.72 212.80h3.55M118.72 214.30h3.55M118.72 215.80h3.55M118.72 217.30h3.55M118.72 218.80h3.55M118.72 220.30h3.55M118.72 221.80h3.55M118.72 223.30h3.55" stroke="#c4c4c4" stroke-width="0.4" fill="none"/>
<rect x="118.72" y="201.40" width="3.55" height="23.00" fill="none" stroke="#8a8a8a" stroke-width="0.45"/>
<line x1="86.90" y1="156.10" x2="118.60" y2="156.10" stroke="#333" stroke-width="0.6"/>
<line x1="86.90" y1="156.10" x2="86.90" y2="160.30" stroke="#333" stroke-width="0.6"/>
<line x1="118.60" y1="156.10" x2="118.60" y2="159.50" stroke="#333" stroke-width="0.6"/>
<ellipse cx="103.00" cy="155.90" rx="1.25" ry="0.9" fill="#111"/>
<line x1="87.20" y1="160.00" x2="87.20" y2="174.00" stroke="#666" stroke-width="0.5"/>
<rect x="126.80" y="163.80" width="9.10" height="3.50" fill="#c2c2c2" stroke="#222" stroke-width="0.55"/>
<rect x="126.80" y="169.45" width="9.10" height="3.50" fill="#6a6a6a" stroke="#222" stroke-width="0.55"/>
<rect x="126.80" y="175.10" width="9.10" height="3.50" fill="#272727" stroke="#222" stroke-width="0.55"/>
<rect x="126.80" y="180.75" width="9.10" height="3.50" fill="#000" stroke="#222" stroke-width="0.55"/>
<rect x="126.80" y="186.40" width="9.10" height="3.50" fill="#e9e9e9" stroke="#808080" stroke-width="0.55"/>
<line x1="213.20" y1="137.50" x2="213.20" y2="224.20" stroke="#999" stroke-width="0.9"/>
<line x1="212.80" y1="224.20" x2="337.00" y2="224.20" stroke="#999" stroke-width="0.9"/>
<line x1="211.40" y1="157.60" x2="213.20" y2="157.60" stroke="#888" stroke-width="0.6"/>
<line x1="211.40" y1="190.80" x2="213.20" y2="190.80" stroke="#888" stroke-width="0.6"/>
<line x1="225.65" y1="217.20" x2="225.65" y2="216.20" stroke="#3a3a3a" stroke-width="0.65"/>
<line x1="223.45" y1="216.20" x2="227.85" y2="216.20" stroke="#3a3a3a" stroke-width="0.65"/>
<rect x="221.58" y="217.20" width="8.15" height="6.70" fill="#c4c4c4" stroke="#222" stroke-width="0.55"/>
<line x1="242.32" y1="177.50" x2="242.32" y2="173.50" stroke="#3a3a3a" stroke-width="0.65"/>
<line x1="240.12" y1="173.50" x2="244.52" y2="173.50" stroke="#3a3a3a" stroke-width="0.65"/>
<rect x="238.25" y="177.50" width="8.15" height="46.40" fill="#6e6e6e" stroke="#222" stroke-width="0.55"/>
<line x1="258.99" y1="201.50" x2="258.99" y2="199.20" stroke="#3a3a3a" stroke-width="0.65"/>
<line x1="256.79" y1="199.20" x2="261.19" y2="199.20" stroke="#3a3a3a" stroke-width="0.65"/>
<rect x="254.92" y="201.50" width="8.15" height="22.40" fill="#2e2e2e" stroke="#222" stroke-width="0.55"/>
<line x1="275.66" y1="208.00" x2="275.66" y2="205.50" stroke="#3a3a3a" stroke-width="0.65"/>
<line x1="273.46" y1="205.50" x2="277.86" y2="205.50" stroke="#3a3a3a" stroke-width="0.65"/>
<rect x="271.58" y="208.00" width="8.15" height="15.90" fill="#000" stroke="#222" stroke-width="0.55"/>
<line x1="292.33" y1="206.30" x2="292.33" y2="200.60" stroke="#3a3a3a" stroke-width="0.65"/>
<line x1="290.13" y1="200.60" x2="294.53" y2="200.60" stroke="#3a3a3a" stroke-width="0.65"/>
<rect x="288.25" y="206.30" width="8.15" height="17.60" fill="#fff" stroke="none" stroke-width="0"/>
<path d="M288.25 207.20h8.15M288.25 208.70h8.15M288.25 210.20h8.15M288.25 211.70h8.15M288.25 213.20h8.15M288.25 214.70h8.15M288.25 216.20h8.15M288.25 217.70h8.15M288.25 219.20h8.15M288.25 220.70h8.15M288.25 222.20h8.15" stroke="#777" stroke-width="0.45" fill="none"/>
<rect x="288.25" y="206.30" width="8.15" height="17.60" fill="none" stroke="#222" stroke-width="0.55"/>
<line x1="309.00" y1="181.20" x2="309.00" y2="175.40" stroke="#3a3a3a" stroke-width="0.65"/>
<line x1="306.80" y1="175.40" x2="311.20" y2="175.40" stroke="#3a3a3a" stroke-width="0.65"/>
<rect x="304.93" y="181.20" width="8.15" height="42.70" fill="#fff" stroke="none" stroke-width="0"/>
<path d="M306.68 181.20V223.90M308.93 181.20V223.90M311.18 181.20V223.90" stroke="#b4b4b4" stroke-width="0.55" fill="none"/>
<rect x="304.93" y="181.20" width="8.15" height="42.70" fill="none" stroke="#4a4a4a" stroke-width="0.55"/>
<line x1="325.67" y1="171.40" x2="325.67" y2="161.10" stroke="#3a3a3a" stroke-width="0.65"/>
<line x1="323.47" y1="161.10" x2="327.87" y2="161.10" stroke="#3a3a3a" stroke-width="0.65"/>
<rect x="321.60" y="171.40" width="8.15" height="52.50" fill="#d6d6d6" stroke="#4a4a4a" stroke-width="0.55"/>
<line x1="239.40" y1="146.60" x2="256.00" y2="146.60" stroke="#333" stroke-width="0.6"/>
<line x1="239.40" y1="146.60" x2="239.40" y2="148.70" stroke="#333" stroke-width="0.6"/>
<line x1="256.00" y1="146.60" x2="256.00" y2="148.70" stroke="#333" stroke-width="0.6"/>
<ellipse cx="245.50" cy="145.80" rx="1.15" ry="1.0" fill="#111"/>
<ellipse cx="249.10" cy="145.80" rx="1.15" ry="1.0" fill="#111"/>
<line x1="391.70" y1="156.80" x2="391.70" y2="223.90" stroke="#555" stroke-width="0.8"/>
<line x1="391.30" y1="223.90" x2="485.70" y2="223.90" stroke="#555" stroke-width="0.8"/>
<line x1="389.90" y1="168.90" x2="391.70" y2="168.90" stroke="#555" stroke-width="0.6"/>
<line x1="389.90" y1="188.30" x2="391.70" y2="188.30" stroke="#555" stroke-width="0.6"/>
<line x1="389.90" y1="207.70" x2="391.70" y2="207.70" stroke="#555" stroke-width="0.6"/>
<line x1="404.25" y1="220.60" x2="404.25" y2="218.10" stroke="#3a3a3a" stroke-width="0.65"/>
<line x1="401.65" y1="218.10" x2="406.85" y2="218.10" stroke="#3a3a3a" stroke-width="0.65"/>
<rect x="400.07" y="220.60" width="8.35" height="3.00" fill="#c4c4c4" stroke="#333" stroke-width="0.55"/>
<line x1="421.55" y1="190.80" x2="421.55" y2="189.50" stroke="#3a3a3a" stroke-width="0.65"/>
<line x1="418.95" y1="189.50" x2="424.15" y2="189.50" stroke="#3a3a3a" stroke-width="0.65"/>
<rect x="417.38" y="190.80" width="8.35" height="32.80" fill="#6e6e6e" stroke="#333" stroke-width="0.55"/>
<line x1="438.85" y1="208.10" x2="438.85" y2="203.10" stroke="#3a3a3a" stroke-width="0.65"/>
<line x1="436.25" y1="203.10" x2="441.45" y2="203.10" stroke="#3a3a3a" stroke-width="0.65"/>
<rect x="434.68" y="208.10" width="8.35" height="15.50" fill="#2e2e2e" stroke="#333" stroke-width="0.55"/>
<line x1="456.15" y1="176.40" x2="456.15" y2="172.00" stroke="#3a3a3a" stroke-width="0.65"/>
<line x1="453.55" y1="172.00" x2="458.75" y2="172.00" stroke="#3a3a3a" stroke-width="0.65"/>
<rect x="451.98" y="176.40" width="8.35" height="47.20" fill="#000" stroke="#333" stroke-width="0.55"/>
<line x1="473.45" y1="171.60" x2="473.45" y2="169.60" stroke="#3a3a3a" stroke-width="0.65"/>
<line x1="470.85" y1="169.60" x2="476.05" y2="169.60" stroke="#3a3a3a" stroke-width="0.65"/>
<rect x="469.27" y="171.60" width="8.35" height="52.00" fill="#fbfbfb" stroke="none" stroke-width="0"/>
<path d="M469.27 172.50h8.35M469.27 173.85h8.35M469.27 175.20h8.35M469.27 176.55h8.35M469.27 177.90h8.35M469.27 179.25h8.35M469.27 180.60h8.35M469.27 181.95h8.35M469.27 183.30h8.35M469.27 184.65h8.35M469.27 186.00h8.35M469.27 187.35h8.35M469.27 188.70h8.35M469.27 190.05h8.35M469.27 191.40h8.35M469.27 192.75h8.35M469.27 194.10h8.35M469.27 195.45h8.35M469.27 196.80h8.35M469.27 198.15h8.35M469.27 199.50h8.35M469.27 200.85h8.35M469.27 202.20h8.35M469.27 203.55h8.35M469.27 204.90h8.35M469.27 206.25h8.35M469.27 207.60h8.35M469.27 208.95h8.35M469.27 210.30h8.35M469.27 211.65h8.35M469.27 213.00h8.35M469.27 214.35h8.35M469.27 215.70h8.35M469.27 217.05h8.35M469.27 218.40h8.35M469.27 219.75h8.35M469.27 221.10h8.35M469.27 222.45h8.35" stroke="#a8a8a8" stroke-width="0.4" fill="none"/>
<rect x="469.27" y="171.60" width="8.35" height="52.00" fill="none" stroke="#333" stroke-width="0.55"/>
<line x1="421.30" y1="161.50" x2="438.00" y2="161.50" stroke="#333" stroke-width="0.6"/>
<line x1="421.30" y1="161.50" x2="421.30" y2="164.20" stroke="#333" stroke-width="0.6"/>
<line x1="438.00" y1="161.50" x2="438.00" y2="164.20" stroke="#333" stroke-width="0.6"/>
<ellipse cx="427.80" cy="160.70" rx="1.15" ry="1.0" fill="#111"/>
<ellipse cx="430.60" cy="160.70" rx="1.15" ry="1.0" fill="#111"/>
</g>
<filter id="bt" x="0" y="0" width="520" height="249" filterUnits="userSpaceOnUse"><feConvolveMatrix order="3" kernelMatrix="0 1 0 1 7 1 0 1 0" divisor="11" edgeMode="duplicate" preserveAlpha="false"/></filter>
<g filter="url(#bt)">
<text x="0.50" y="9.70" font-size="11" text-anchor="start" font-weight="bold" fill="#000" >A</text>
<text x="30.50" y="22.35" font-size="6.2" text-anchor="end" font-weight="normal" fill="#000" >200</text>
<text x="30.50" y="60.55" font-size="6.2" text-anchor="end" font-weight="normal" fill="#000" >100</text>
<text x="30.50" y="98.75" font-size="6.2" text-anchor="end" font-weight="normal" fill="#000" >0</text>
<text transform="translate(18.50,56.50) rotate(-90) scale(1.127,1)" font-size="6.3" text-anchor="middle" fill="#000">Cell Numbers/HPF</text>
<text x="0.50" y="106.40" font-size="6.2" text-anchor="start" font-weight="normal" fill="#000" >Treatment</text>
<text x="45.20" y="106.90" font-size="7.2" text-anchor="middle" font-weight="normal" fill="#000" >--</text>
<text x="71.00" y="106.90" font-size="6.3" text-anchor="middle" font-weight="normal" fill="#000" >Adenosine</text>
<text x="98.00" y="106.90" font-size="6.3" text-anchor="middle" font-weight="normal" fill="#000" >NECA</text>
<text x="122.00" y="106.90" font-size="6.3" text-anchor="middle" font-weight="normal" fill="#000" >CGS</text>
<text x="149.60" y="106.90" font-size="6.3" text-anchor="middle" font-weight="normal" fill="#000" >ZM</text>
<text x="174.60" y="106.90" font-size="6.3" text-anchor="middle" font-weight="normal" fill="#000" >CPA</text>
<text x="149.60" y="114.60" font-size="6.3" text-anchor="middle" font-weight="normal" fill="#000" >NECA</text>
<text x="131.80" y="5.50" font-size="5.5" text-anchor="start" font-weight="normal" fill="#000" >RANTES (ng/mL)</text>
<text x="145.20" y="13.30" font-size="5.4" text-anchor="start" font-weight="normal" fill="#000" >0</text>
<text x="145.20" y="19.70" font-size="5.4" text-anchor="start" font-weight="normal" fill="#000" >1</text>
<text x="145.20" y="26.10" font-size="5.4" text-anchor="start" font-weight="normal" fill="#000" >10</text>
<text x="145.20" y="32.50" font-size="5.4" text-anchor="start" font-weight="normal" fill="#000" >100</text>
<text x="145.20" y="38.90" font-size="5.4" text-anchor="start" font-weight="normal" fill="#000" >1000</text>
<text x="191.30" y="9.50" font-size="10.8" text-anchor="start" font-weight="bold" fill="#000" >B</text>
<text x="219.60" y="33.72" font-size="6.2" text-anchor="end" font-weight="normal" fill="#000" >150</text>
<text x="219.60" y="55.15" font-size="6.2" text-anchor="end" font-weight="normal" fill="#000" >100</text>
<text x="219.60" y="76.58" font-size="6.2" text-anchor="end" font-weight="normal" fill="#000" >50</text>
<text x="219.60" y="98.00" font-size="6.2" text-anchor="end" font-weight="normal" fill="#000" >0</text>
<text transform="translate(205.40,64.10) rotate(-90) scale(1.127,1)" font-size="6.3" text-anchor="middle" fill="#000">Cell Numbers/HPF</text>
<text x="192.60" y="106.60" font-size="6.35" text-anchor="start" font-weight="normal" fill="#000" >Treatment</text>
<text x="232.50" y="105.90" font-size="7.2" text-anchor="middle" font-weight="normal" fill="#000" >--</text>
<text x="254.50" y="105.90" font-size="6.2" text-anchor="middle" font-weight="normal" fill="#000" >CGS</text>
<text x="255.60" y="113.80" font-size="6.2" text-anchor="middle" font-weight="normal" fill="#000" >(2μM)</text>
<text x="280.40" y="106.50" font-size="6.2" text-anchor="middle" font-weight="normal" fill="#000" >CGS</text>
<text x="280.70" y="114.20" font-size="6.2" text-anchor="middle" font-weight="normal" fill="#000" >(0.2 μM)</text>
<text x="308.80" y="105.90" font-size="6.2" text-anchor="middle" font-weight="normal" fill="#000" >CGS</text>
<text x="308.40" y="113.80" font-size="6.2" text-anchor="middle" font-weight="normal" fill="#000" >(0.2 μM)</text>
<text x="308.60" y="121.50" font-size="6.2" text-anchor="middle" font-weight="normal" fill="#000" >ZM (0.1 μM)</text>
<text x="290.10" y="35.70" font-size="5.2" text-anchor="start" font-weight="normal" fill="#000" >RANTES</text>
<text x="300.90" y="43.00" font-size="5.6" text-anchor="start" font-weight="normal" fill="#000" >0</text>
<text x="300.90" y="48.20" font-size="5.6" text-anchor="start" font-weight="normal" fill="#000" >33</text>
<text x="336.60" y="9.60" font-size="10.8" text-anchor="start" font-weight="bold" fill="#000" >C</text>
<text x="361.90" y="32.70" font-size="6.2" text-anchor="end" font-weight="normal" fill="#000" >200</text>
<text x="361.90" y="64.95" font-size="6.2" text-anchor="end" font-weight="normal" fill="#000" >100</text>
<text x="361.90" y="97.20" font-size="6.2" text-anchor="end" font-weight="normal" fill="#000" >0</text>
<text transform="translate(349.30,61.90) rotate(-90) scale(1.103,1)" font-size="6.3" text-anchor="middle" fill="#000">Cell Numbers/HPF</text>
<text x="336.80" y="103.80" font-size="6.35" text-anchor="start" font-weight="normal" fill="#000" >Treatment</text>
<text x="336.80" y="114.70" font-size="6.35" text-anchor="start" font-weight="normal" fill="#000" >Stimuli</text>
<text x="377.00" y="105.00" font-size="7.2" text-anchor="middle" font-weight="normal" fill="#000" >--</text>
<text x="378.50" y="113.90" font-size="6.3" text-anchor="middle" font-weight="normal" fill="#000" >RAN</text>
<text x="404.60" y="106.00" font-size="6.25" text-anchor="middle" font-weight="normal" fill="#000" >CGS</text>
<text x="404.70" y="113.90" font-size="6.3" text-anchor="middle" font-weight="normal" fill="#000" >RAN</text>
<text x="428.30" y="105.00" font-size="7.2" text-anchor="middle" font-weight="normal" fill="#000" >--</text>
<text x="430.00" y="113.90" font-size="6.3" text-anchor="middle" font-weight="normal" fill="#000" >MCP</text>
<text x="455.50" y="106.00" font-size="6.25" text-anchor="middle" font-weight="normal" fill="#000" >CGS</text>
<text x="455.90" y="113.90" font-size="6.3" text-anchor="middle" font-weight="normal" fill="#000" >MCP</text>
<text x="479.60" y="105.00" font-size="7.2" text-anchor="middle" font-weight="normal" fill="#000" >--</text>
<text x="481.30" y="113.90" font-size="6.3" text-anchor="middle" font-weight="normal" fill="#000" >fMLF</text>
<text x="507.30" y="106.00" font-size="6.25" text-anchor="middle" font-weight="normal" fill="#000" >CGS</text>
<text x="508.20" y="113.90" font-size="6.3" text-anchor="middle" font-weight="normal" fill="#000" >fMLF</text>
<text x="468.00" y="4.60" font-size="6.05" text-anchor="start" font-weight="normal" fill="#000" >Stimuli (ng/mL)</text>
<text x="478.70" y="11.70" font-size="6.3" text-anchor="start" font-weight="normal" fill="#000" >0</text>
<text x="478.70" y="17.20" font-size="6.3" text-anchor="start" font-weight="normal" fill="#000" >1</text>
<text x="478.70" y="22.70" font-size="6.3" text-anchor="start" font-weight="normal" fill="#000" >10</text>
<text x="478.70" y="28.20" font-size="6.3" text-anchor="start" font-weight="normal" fill="#000" >100</text>
<text x="478.70" y="33.70" font-size="6.3" text-anchor="start" font-weight="normal" fill="#000" >1000</text>
<text x="48.30" y="140.20" font-size="10.8" text-anchor="start" font-weight="bold" fill="#000" >D</text>
<text x="74.20" y="161.70" font-size="6.45" text-anchor="end" font-weight="normal" fill="#000" >100</text>
<text x="74.20" y="177.97" font-size="6.45" text-anchor="end" font-weight="normal" fill="#000" >75</text>
<text x="74.20" y="194.25" font-size="6.45" text-anchor="end" font-weight="normal" fill="#000" >50</text>
<text x="74.20" y="210.53" font-size="6.45" text-anchor="end" font-weight="normal" fill="#000" >25</text>
<text x="74.20" y="226.80" font-size="6.45" text-anchor="end" font-weight="normal" fill="#000" >0</text>
<text transform="translate(59.40,192.60) rotate(-90) scale(1.103,1)" font-size="6.3" text-anchor="middle" fill="#000">Cell Numbers/HPF</text>
<text x="49.20" y="232.00" font-size="6.35" text-anchor="start" font-weight="normal" fill="#000" >Treatment</text>
<text x="49.20" y="242.30" font-size="6.3" text-anchor="start" font-weight="normal" fill="#000" >Stimuli</text>
<text x="86.60" y="234.00" font-size="7.2" text-anchor="middle" font-weight="normal" fill="#000" >--</text>
<text x="114.10" y="235.00" font-size="6.3" text-anchor="middle" font-weight="normal" fill="#000" >CGS</text>
<text x="81.90" y="242.50" font-size="6.2" text-anchor="start" font-weight="normal" fill="#000" >IL8</text>
<text x="107.70" y="242.70" font-size="6.2" text-anchor="start" font-weight="normal" fill="#000" >IL8</text>
<text x="126.40" y="160.70" font-size="5.9" text-anchor="start" font-weight="normal" fill="#000" >Stimuli (ng/mL)</text>
<text x="137.50" y="167.75" font-size="6.2" text-anchor="start" font-weight="normal" fill="#000" >0</text>
<text x="137.50" y="173.40" font-size="6.2" text-anchor="start" font-weight="normal" fill="#000" >1</text>
<text x="137.50" y="179.05" font-size="6.2" text-anchor="start" font-weight="normal" fill="#000" >10</text>
<text x="137.50" y="184.70" font-size="6.2" text-anchor="start" font-weight="normal" fill="#000" >100</text>
<text x="137.50" y="190.35" font-size="6.2" text-anchor="start" font-weight="normal" fill="#000" >1000</text>
<text x="183.00" y="139.90" font-size="10.8" text-anchor="start" font-weight="bold" fill="#000" >E</text>
<text x="209.70" y="159.70" font-size="6.9" text-anchor="end" font-weight="normal" fill="#000" >2.1</text>
<text x="209.70" y="192.90" font-size="6.9" text-anchor="end" font-weight="normal" fill="#000" >1.6</text>
<text x="209.70" y="226.10" font-size="6.9" text-anchor="end" font-weight="normal" fill="#000" >1.1</text>
<text transform="translate(194.30,183.20) rotate(-90) scale(1.111,1)" font-size="6.3" text-anchor="middle" fill="#000">Fura-2 Ratio</text>
<text x="183.70" y="232.50" font-size="6.3" text-anchor="start" font-weight="normal" fill="#000" >Treatment</text>
<text x="183.70" y="248.60" font-size="6.3" text-anchor="start" font-weight="normal" fill="#000" >Stimuli</text>
<text x="226.00" y="232.80" font-size="7.0" text-anchor="middle" font-weight="normal" fill="#000" textLength="3.9" lengthAdjust="spacingAndGlyphs">--</text>
<text x="241.80" y="232.80" font-size="7.0" text-anchor="middle" font-weight="normal" fill="#000" textLength="3.9" lengthAdjust="spacingAndGlyphs">--</text>
<text x="259.50" y="232.60" font-size="6.3" text-anchor="middle" font-weight="normal" fill="#000" >Ade</text>
<text x="275.80" y="232.60" font-size="6.3" text-anchor="middle" font-weight="normal" fill="#000" >NECA</text>
<text x="293.00" y="232.60" font-size="6.3" text-anchor="middle" font-weight="normal" fill="#000" >CGS</text>
<text x="309.60" y="232.60" font-size="6.3" text-anchor="middle" font-weight="normal" fill="#000" >ZM</text>
<text x="325.20" y="232.60" font-size="6.3" text-anchor="middle" font-weight="normal" fill="#000" >CPA</text>
<text x="305.40" y="240.00" font-size="6.3" text-anchor="start" font-weight="normal" fill="#000" >NECA</text>
<text x="226.10" y="249.20" font-size="7.0" text-anchor="middle" font-weight="normal" fill="#000" textLength="3.9" lengthAdjust="spacingAndGlyphs">--</text>
<text x="243.20" y="248.70" font-size="6.3" text-anchor="middle" font-weight="normal" fill="#000" >RAN</text>
<text x="259.70" y="248.70" font-size="6.3" text-anchor="middle" font-weight="normal" fill="#000" >RAN</text>
<text x="275.90" y="248.70" font-size="6.3" text-anchor="middle" font-weight="normal" fill="#000" >RAN</text>
<text x="293.10" y="248.70" font-size="6.3" text-anchor="middle" font-weight="normal" fill="#000" >RAN</text>
<text x="311.60" y="248.70" font-size="6.3" text-anchor="middle" font-weight="normal" fill="#000" >RAN</text>
<text x="326.30" y="248.70" font-size="6.3" text-anchor="middle" font-weight="normal" fill="#000" >RAN</text>
<text x="364.20" y="140.20" font-size="10.8" text-anchor="start" font-weight="bold" fill="#000" >F</text>
<text x="389.40" y="171.30" font-size="7.4" text-anchor="end" font-weight="normal" fill="#000" >2.5</text>
<text x="389.40" y="190.70" font-size="7.4" text-anchor="end" font-weight="normal" fill="#000" >2.0</text>
<text x="389.40" y="210.10" font-size="7.4" text-anchor="end" font-weight="normal" fill="#000" >1.5</text>
<text transform="translate(374.20,189.30) rotate(-90) scale(1.111,1)" font-size="6.3" text-anchor="middle" fill="#000">Fura-2 Ratio</text>
<text x="365.40" y="234.40" font-size="6.35" text-anchor="start" font-weight="normal" fill="#000" >Treatment</text>
<text x="365.40" y="245.00" font-size="6.35" text-anchor="start" font-weight="normal" fill="#000" >Stimuli</text>
<text x="405.20" y="234.50" font-size="7.0" text-anchor="middle" font-weight="normal" fill="#000" textLength="3.9" lengthAdjust="spacingAndGlyphs">--</text>
<text x="421.70" y="234.50" font-size="7.0" text-anchor="middle" font-weight="normal" fill="#000" textLength="3.9" lengthAdjust="spacingAndGlyphs">--</text>
<text x="456.80" y="234.50" font-size="7.0" text-anchor="middle" font-weight="normal" fill="#000" textLength="3.9" lengthAdjust="spacingAndGlyphs">--</text>
<text x="437.00" y="234.40" font-size="6.4" text-anchor="middle" font-weight="normal" fill="#000" >CGS</text>
<text x="474.90" y="234.40" font-size="6.4" text-anchor="middle" font-weight="normal" fill="#000" >CGS</text>
<text x="405.20" y="245.10" font-size="7.0" text-anchor="middle" font-weight="normal" fill="#000" textLength="3.9" lengthAdjust="spacingAndGlyphs">--</text>
<text x="422.60" y="245.00" font-size="6.3" text-anchor="middle" font-weight="normal" fill="#000" >MCP</text>
<text x="439.80" y="245.00" font-size="6.3" text-anchor="middle" font-weight="normal" fill="#000" >MCP</text>
<text x="456.40" y="245.00" font-size="6.1" text-anchor="middle" font-weight="normal" fill="#000" >fMLF</text>
<text x="474.90" y="245.00" font-size="6.2" text-anchor="middle" font-weight="normal" fill="#000" >fMLF</text>
</g>
</svg>
</body></html>
